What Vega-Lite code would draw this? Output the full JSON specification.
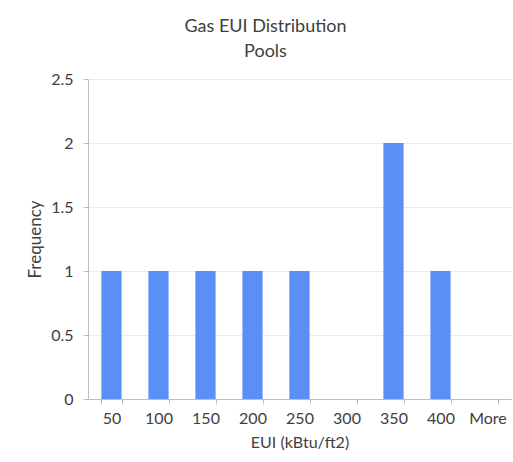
{
  "$schema": "https://vega.github.io/schema/vega-lite/v6.json",
  "autosize": "none",
  "width": 423,
  "height": 320,
  "padding": {"left": 88, "top": 79, "right": 2, "bottom": 63},
  "background": "white",
  "title": {
    "text": ["Gas EUI Distribution", "Pools"],
    "anchor": "middle",
    "dx": -34,
    "offset": 10,
    "lineHeight": 25,
    "font": "Lato",
    "fontSize": 18,
    "fontWeight": "normal",
    "color": "#404040"
  },
  "data": {
    "values": [
      {"bin": "50", "count": 1},
      {"bin": "100", "count": 1},
      {"bin": "150", "count": 1},
      {"bin": "200", "count": 1},
      {"bin": "250", "count": 1},
      {"bin": "300", "count": 0},
      {"bin": "350", "count": 2},
      {"bin": "400", "count": 1},
      {"bin": "More", "count": 0}
    ]
  },
  "mark": {"type": "bar", "color": "#5B8EF7"},
  "encoding": {
    "x": {
      "field": "bin",
      "type": "ordinal",
      "sort": null,
      "scale": {"paddingInner": 0.57, "paddingOuter": 0.285},
      "axis": {
        "title": "EUI (kBtu/ft2)",
        "labelAngle": 0,
        "tickBand": "extent",
        "tickSize": 5,
        "tickColor": "#BFBFBF",
        "domainColor": "#BFBFBF",
        "labelPadding": 6,
        "labelFont": "Lato",
        "labelFontSize": 16,
        "labelColor": "#404040",
        "titleFont": "Lato",
        "titleFontSize": 16,
        "titleFontWeight": "normal",
        "titleColor": "#404040",
        "titlePadding": 8
      }
    },
    "y": {
      "field": "count",
      "type": "quantitative",
      "scale": {"domain": [0, 2.5]},
      "axis": {
        "title": "Frequency",
        "values": [0, 0.5, 1, 1.5, 2, 2.5],
        "format": "~g",
        "tickSize": 5,
        "tickColor": "#BFBFBF",
        "domainColor": "#BFBFBF",
        "gridColor": "#EBEBEB",
        "labelPadding": 10,
        "labelFont": "Lato",
        "labelFontSize": 16,
        "labelColor": "#404040",
        "titleFont": "Lato",
        "titleFontSize": 17,
        "titleFontWeight": "normal",
        "titleColor": "#404040",
        "titlePadding": 6
      }
    }
  },
  "config": {"view": {"stroke": null}}
}
